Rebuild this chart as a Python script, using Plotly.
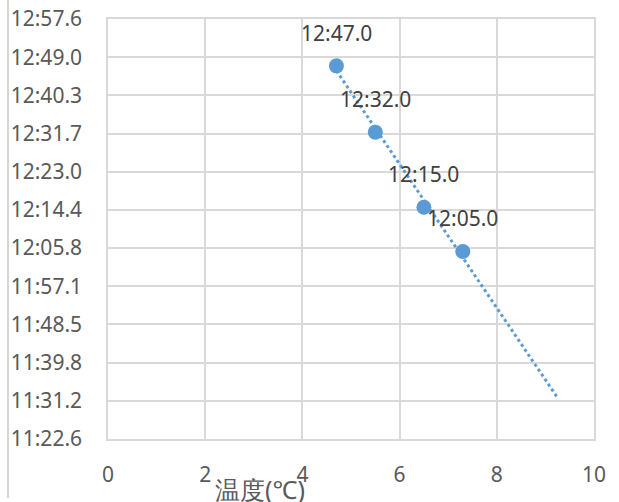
import numpy as np
import plotly.graph_objects as go

# Data (temperature °C vs time mm:ss.0)
temps = [4.7, 5.5, 6.5, 7.3]
times = ["12:47.0", "12:32.0", "12:15.0", "12:05.0"]

y_tick_labels = ["11:22.6", "11:31.2", "11:39.8", "11:48.5", "11:57.1", "12:05.8",
                 "12:14.4", "12:23.0", "12:31.7", "12:40.3", "12:49.0", "12:57.6"]
x_tick_vals = [0, 2, 4, 6, 8, 10]
x_title = "温度(℃)"

def to_sec(s):
    m, sec = s.split(":")
    return int(m) * 60 + float(sec)

y_sec = [to_sec(t) for t in times]
# Excel axis ticks: 0.0001 day = 8.64 s steps, starting at 0.0079 day
tick_step = 8.64
y_tick_vals = [682.56 + i * tick_step for i in range(len(y_tick_labels))]

# linear trendline with forward forecast
slope, intercept = np.polyfit(temps, y_sec, 1)
forecast = 1.95
tx = np.array([min(temps), max(temps) + forecast])
ty = slope * tx + intercept

blue = "#5B9BD5"
grey_text = "#595959"
grid = "#D9D9D9"
font_family = "Noto Sans, Open Sans, sans-serif"

L, R, T, B = 108, 25, 19, 63
W, H = 619, 502
pw = W - L - R
ph = H - T - B

fig = go.Figure()
fig.add_trace(go.Scatter(x=tx, y=ty, mode="lines",
                         line=dict(color=blue, width=3, dash="dot"),
                         hoverinfo="skip", showlegend=False))
fig.add_trace(go.Scatter(x=temps, y=y_sec, mode="markers",
                         marker=dict(color=blue, size=15),
                         showlegend=False))

annotations = [dict(text=t, x=xv, y=yv, xref="x", yref="y", yshift=33,
                    showarrow=False, xanchor="center", yanchor="middle",
                    font=dict(size=21, color="#404040"))
               for xv, yv, t in zip(temps, y_sec, times)]
annotations.append(dict(text=x_title, xref="paper", yref="paper",
                        x=(260 - L) / pw, y=(H - B - 489) / ph,
                        xanchor="center", yanchor="middle",
                        showarrow=False, font=dict(size=25, color=grey_text)))

fig.update_layout(
    width=W, height=H,
    margin=dict(l=L, r=R, t=T, b=B, autoexpand=False),
    paper_bgcolor="white", plot_bgcolor="white",
    font=dict(family=font_family, color=grey_text, size=21),
    xaxis=dict(range=[0, 10], tickvals=x_tick_vals, showgrid=True, gridcolor=grid,
               gridwidth=1.5, showline=True, linecolor=grid, linewidth=1.5, mirror=True,
               zeroline=False, ticks="", ticklabelstandoff=16, automargin=False,
               tickfont=dict(size=21, color=grey_text)),
    yaxis=dict(range=[682.56, 682.56 + 11 * tick_step], tickvals=y_tick_vals,
               ticktext=y_tick_labels, showgrid=True, gridcolor=grid, gridwidth=1.5,
               showline=True, linecolor=grid, linewidth=1.5, mirror=True,
               zeroline=False, ticks="", ticklabelstandoff=20, automargin=False,
               tickfont=dict(size=21, color=grey_text)),
    annotations=annotations,
)

fig.add_shape(type="line", xref="paper", yref="paper",
              x0=(8 - L) / pw, x1=(8 - L) / pw,
              y0=(H - B - 0) / ph, y1=(H - B - 498) / ph,
              line=dict(color="#C8C8C8", width=1.5))

fig.write_html("out.html", config={"displayModeBar": False},
               post_script="document.body.style.margin='0';document.body.style.overflow='hidden';")
